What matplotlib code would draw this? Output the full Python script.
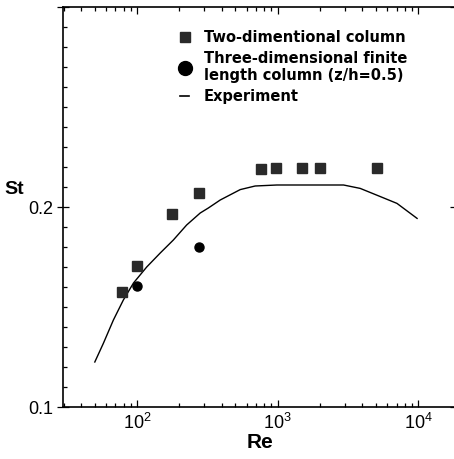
import matplotlib
matplotlib.use("Agg")
import matplotlib.pyplot as plt
from matplotlib.lines import Line2D
from matplotlib.ticker import LogLocator, NullFormatter, MultipleLocator, FixedLocator

# Two-dimensional column (squares)
re_2d = [78, 100, 177, 276, 760, 980, 1500, 2000, 5100]
st_2d = [0.1575, 0.1705, 0.1965, 0.207, 0.219, 0.2195, 0.2195, 0.2195, 0.2195]

# Three-dimensional finite length column (circles)
re_3d = [100, 276]
st_3d = [0.1605, 0.180]

# Experiment curve
re_exp = [50, 57.5, 67.8, 79.8, 94.2, 117, 146, 181, 225, 281, 321, 390, 541, 691,
          986, 2940, 3860, 5370, 7050, 9800]
st_exp = [0.1225, 0.1318, 0.1435, 0.1535, 0.162, 0.170, 0.177, 0.1835, 0.191, 0.197,
          0.1995, 0.2035, 0.2087, 0.2105, 0.211, 0.211, 0.2093, 0.2052, 0.2018, 0.1943]

legend_labels = ["Two-dimentional column",
                 "Three-dimensional finite\nlength column (z/h=0.5)",
                 "Experiment"]

plt.rcParams["font.family"] = ["Liberation Sans", "DejaVu Sans"]
plt.rcParams["mathtext.fontset"] = "custom"
plt.rcParams["mathtext.rm"] = "Liberation Sans"

W, H = 454, 459
fig = plt.figure(figsize=(W / 100, H / 100), dpi=100)
# right spine sits just past the picture edge, as in the scan
ax = fig.add_axes([63 / W, (H - 407) / H, (456 - 63) / W, (407 - 7) / H])

ax.plot(re_exp, st_exp, color="black", lw=1.0)
ax.plot(re_2d, st_2d, ls="none", marker="s", ms=7.5, color="#2a2a2a")
ax.plot(re_3d, st_3d, ls="none", marker="o", ms=6.5, color="black")

ax.set_xscale("log")
ax.set_xlim(29.7, 10 ** 4.268)
ax.set_ylim(0.1, 0.3)

ax.xaxis.set_major_locator(LogLocator(base=10, numticks=10))
ax.xaxis.set_minor_locator(LogLocator(base=10, subs=range(2, 10), numticks=20))
ax.xaxis.set_minor_formatter(NullFormatter())
ax.yaxis.set_major_locator(FixedLocator([0.1, 0.2, 0.3]))
ax.yaxis.set_minor_locator(MultipleLocator(0.01))
ax.set_yticklabels(["0.1", "0.2", ""])

ax.tick_params(which="both", direction="in", top=True, right=True, labelsize=13, width=0.9)
ax.tick_params(which="major", length=5)
ax.tick_params(which="minor", length=3)
ax.tick_params(axis="y", which="minor", right=False)
ax.tick_params(axis="y", which="major", direction="inout", length=8, pad=3)
ax.tick_params(axis="x", which="major", pad=4)
for s in ax.spines.values():
    s.set_linewidth(1.2)

ax.text(-0.125, 0.545, "St", transform=ax.transAxes, fontsize=14, fontweight="bold",
        ha="center", va="center")
ax.set_xlabel("Re", fontsize=15, fontweight="bold", labelpad=0)

handles = [
    Line2D([], [], ls="none", marker="s", ms=7.5, color="#2a2a2a"),
    Line2D([], [], ls="none", marker="o", ms=10, color="black"),
    Line2D([], [], color="black", lw=1.2),
]
leg = ax.legend(handles, legend_labels, loc="upper left", bbox_to_anchor=(0.265, 0.975),
                frameon=False, handlelength=0.6, handletextpad=1.0, labelspacing=0.4,
                prop={"family": ["DejaVu Sans"], "weight": "bold", "size": 10.5})

fig.savefig("out.png", dpi=100)
